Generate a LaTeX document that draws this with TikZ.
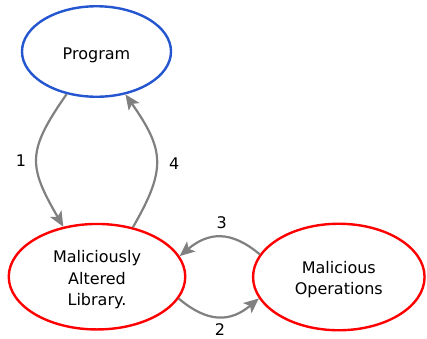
\documentclass[tikz,border=0pt]{standalone}
\usepackage{fontspec}
\setmainfont{DejaVu Sans}
\usetikzlibrary{shapes.geometric,arrows.meta}
\definecolor{progblue}{HTML}{2456D0}
\definecolor{edgegray}{HTML}{808080}
\begin{document}
\begin{tikzpicture}[x=1pt,y=1pt,
  every node/.style={font=\fontsize{16}{21.5}\selectfont},
  state/.style={ellipse, draw, line width=2.4pt, inner sep=0pt},
  caption/.style={align=center, inner sep=0pt},
  num/.style={inner sep=0pt},
  flow/.style={draw=edgegray, line width=2.2pt,
    -{Stealth[length=15pt,width=13pt,inset=3.5pt]}}]
\useasboundingbox (0,0) rectangle (427,-338);

% the three states
\node[state, draw=progblue, minimum width=149pt, minimum height=90.5pt] (prog) at (96.5,-51.5) {};
\node[state, draw=red, minimum width=176.5pt, minimum height=105.5pt] (lib) at (97,-276.7) {};
\node[state, draw=red, minimum width=171.5pt, minimum height=106.5pt] (ops) at (338.8,-277) {};

% their captions
\node[caption] (prog-t) at ([yshift=-3.5pt]prog.center) {Program};
\node[caption] (lib-t) at ([yshift=-3.3pt]lib.center) {Maliciously\\Altered\\Library.};
\node[caption] (ops-t) at ([yshift=-2.8pt]ops.center) {Malicious\\Operations};

% numbered transitions
\draw[flow] (prog.235.6) to[out=235,in=120,looseness=1.35] (lib.124);
\draw[flow] (lib.54.5) to[out=60,in=-55,looseness=1.3] (prog.304.8);
\draw[flow] (ops.164.5) to[out=140,in=40,looseness=1.2] (lib.14.5);
\draw[flow] (lib.345.5) to[out=-40,in=220,looseness=1.2] (ops.195.9);

\node[num] (n1) at (21,-160.5) {1};
\node[num] (n4) at (174.3,-163.3) {4};
\node[num] (n3) at (221.7,-222.7) {3};
\node[num] (n2) at (220,-329.3) {2};
\end{tikzpicture}
\end{document}
